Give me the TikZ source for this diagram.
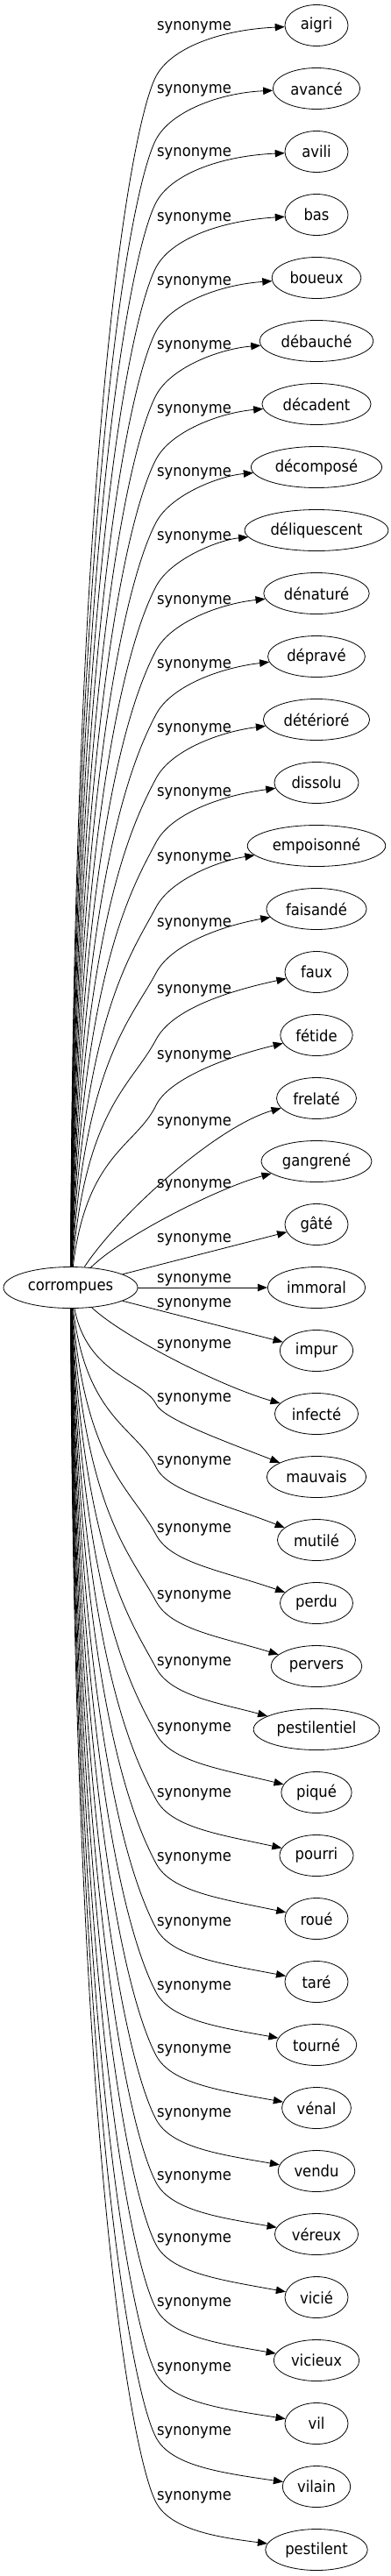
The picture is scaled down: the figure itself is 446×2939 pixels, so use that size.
\documentclass[tikz,border=0pt]{standalone}
\usepackage{fontspec}
\setmainfont{DejaVu Sans}[FakeStretch=0.91]
\usepackage{tikz}
\usetikzlibrary{arrows.meta}
\usetikzlibrary{shapes.geometric}
\tikzset{
    wnode/.style = {align=center, inner xsep=5.5pt, inner ysep=0pt, font=\fontsize{18}{20}\selectfont},
    root_node/.style = {wnode, ellipse, draw=black, minimum width=72pt, minimum height=47pt, line width=0.8pt},
    syn_node/.style = {wnode, ellipse, draw=black, minimum width=72pt, minimum height=47pt, line width=0.8pt},
    syn_label/.style = {wnode, inner sep=0pt, anchor=base west},
    syn_edge/.style = {-{Triangle[length=11pt,width=8.5pt]}, line width=0.8pt}
}

\begin{document}
\begin{tikzpicture}[x=1pt, y=-1pt]
    \useasboundingbox (0,0) rectangle (446,2939);

    \node [root_node] (c) at (80.5,1469) {corrompues};

    \foreach \k/\w/\d in {0/aigri/0, 1/avancé/0, 2/avili/0, 3/bas/2, 4/boueux/3,
            5/débauché/4, 6/décadent/5, 7/décomposé/5, 8/déliquescent/6, 9/dénaturé/7,
            10/dépravé/8, 11/détérioré/9, 12/dissolu/10, 13/empoisonné/12, 14/faisandé/15,
            15/faux/19, 16/fétide/22, 17/frelaté/26, 18/gangrené/25, 19/gâté/15,
            20/immoral/-11, 21/impur/-55, 22/infecté/-80, 23/mauvais/-91, 24/mutilé/-91,
            25/perdu/-86, 26/pervers/-82, 27/pestilentiel/-78, 28/piqué/-75, 29/pourri/-72,
            30/roué/-71, 31/taré/-69, 32/tourné/-68, 33/vénal/-68, 34/vendu/-67,
            35/véreux/-67, 36/vicié/-68, 37/vicieux/-67, 38/vil/-65, 39/vilain/-64,
            40/pestilent/-62} {
        \pgfmathsetmacro\yt{29+72*\k}
        \pgfmathsetmacro\yl{\yt+\d}
        \node [syn_node] (s\k) at (361,\yt) {\w};
        \node [syn_label] (l\k) at (179,\yl+5) {synonyme};
        \ifnum\k<17
            \pgfmathsetmacro\yw{\yl+58}
            \pgfmathsetmacro\dy{1446-\yw}
            \pgfmathsetmacro\xs{84+0.9*\k}
            \pgfmathsetmacro\ya{\yw+0.3*\dy}
            \pgfmathsetmacro\xb{178-min(0.12*\dy,28)}
            \pgfmathsetmacro\yb{\yw+min(0.25*\dy,53)}
            \pgfmathsetmacro\xc{178+0.6*(178-\xb)}
            \pgfmathsetmacro\yc{\yw-0.6*(\yb-\yw)}
            \pgfmathsetmacro\yd{\yl+5}
            \draw [syn_edge] (c) .. controls (\xs,\ya) and (\xb,\yb) .. (178,\yw)
                .. controls (\xc,\yc) and (250,\yd) .. (s\k);
        \else\ifnum\k>22
            \pgfmathsetmacro\yw{\yl+8}
            \pgfmathsetmacro\dy{\yw-1492}
            \pgfmathsetmacro\xs{84+0.9*(40-\k)}
            \pgfmathsetmacro\ya{\yw-0.3*\dy}
            \pgfmathsetmacro\xb{178-min(0.12*\dy,28)}
            \pgfmathsetmacro\yb{\yw-min(0.25*\dy,53)}
            \pgfmathsetmacro\xc{178+0.6*(178-\xb)}
            \pgfmathsetmacro\yc{\yw+0.6*(\yw-\yb)}
            \pgfmathsetmacro\yd{\yl+48}
            \draw [syn_edge] (c) .. controls (\xs,\ya) and (\xb,\yb) .. (178,\yw)
                .. controls (\xc,\yc) and (250,\yd) .. (s\k);
        \else\ifnum\k>18 \ifnum\k<22
            \draw [syn_edge] (c) -- (s\k);
        \fi\fi\fi\fi
    }

    \draw [syn_edge] (c) .. controls (140,1380) and (250,1284) .. (s17);
    \draw [syn_edge] (c) .. controls (140,1410) and (250,1355) .. (s18);
    \draw [syn_edge] (c) .. controls (140,1525) and (250,1581) .. (s22);
\end{tikzpicture}
\end{document}
